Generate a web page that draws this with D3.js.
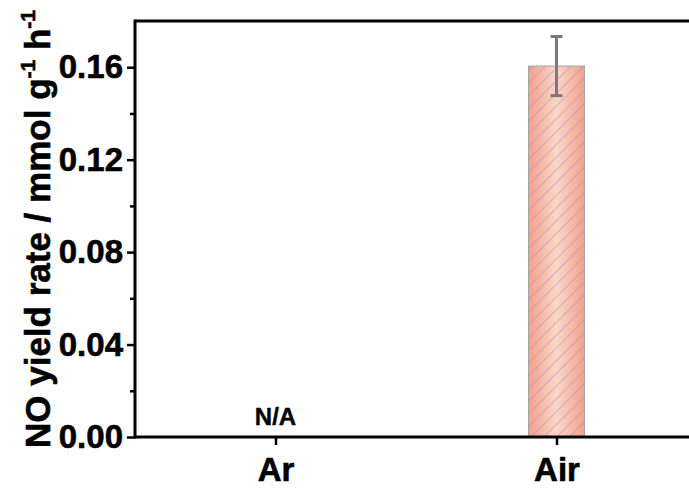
<!DOCTYPE html>
<html><head><meta charset="utf-8">
<script src="https://cdn.jsdelivr.net/npm/d3@7"></script>
<style>body{margin:0;background:#fff}svg{display:block}text{font-family:"Liberation Sans",Arial,sans-serif;font-weight:bold}</style>
</head><body>
<svg id="c" width="689" height="491"></svg>
<script>
const categories = ["Ar", "Air"];
const values = [null, 0.1605];
const errors = [null, 0.0128];
const naLabels = ["N/A", null];
const yTicks = [0.00, 0.04, 0.08, 0.12, 0.16];
const yMinorTicks = [0.02, 0.06, 0.10, 0.14];

(function () {
const svg = d3.select("#c");
const mLeft = 135, mRight = 697, mTop = 21, mBottom = 437;
const x = d3.scalePoint().domain(categories).range([mLeft, mRight]).padding(0.5);
const y = d3.scaleLinear().domain([0, 0.18]).range([mBottom, mTop]);
const barW = 56;

const defs = svg.append("defs");
const grad = defs.append("linearGradient").attr("id", "g").attr("x1", "0").attr("x2", "1").attr("y1", "0").attr("y2", "0");
grad.append("stop").attr("offset", "0").attr("stop-color", "#f2a08b");
grad.append("stop").attr("offset", "0.5").attr("stop-color", "#fcd6c6");
grad.append("stop").attr("offset", "1").attr("stop-color", "#f2a18c");
const pat = defs.append("pattern").attr("id", "h").attr("patternUnits", "userSpaceOnUse")
  .attr("width", 9).attr("height", 9).attr("patternTransform", "rotate(45)");
pat.append("line").attr("x1", 0).attr("y1", 0).attr("x2", 0).attr("y2", 9)
  .attr("stroke", "#9a8ed4").attr("stroke-width", 1);

const data = categories.map((c, i) => ({c, v: values[i], e: errors[i], na: naLabels[i]}));

const bars = data.filter(d => d.v != null);
svg.selectAll("rect.bar").data(bars).enter().append("rect")
  .attr("x", d => x(d.c) - barW / 2).attr("width", barW)
  .attr("y", d => y(d.v)).attr("height", d => y(0) - y(d.v))
  .attr("fill", "url(#g)");
svg.selectAll("rect.hatch").data(bars).enter().append("rect")
  .attr("x", d => x(d.c) - barW / 2).attr("width", barW)
  .attr("y", d => y(d.v)).attr("height", d => y(0) - y(d.v))
  .attr("fill", "url(#h)").attr("stroke", "#a3a3a3").attr("stroke-width", 1);

const eg = svg.selectAll("g.err").data(bars).enter().append("g")
  .attr("stroke", "#7b7b7b").attr("stroke-width", 3);
eg.append("line").attr("x1", d => x(d.c)).attr("x2", d => x(d.c))
  .attr("y1", d => y(d.v + d.e)).attr("y2", d => y(d.v - d.e));
eg.append("line").attr("x1", d => x(d.c) - 6).attr("x2", d => x(d.c) + 6)
  .attr("y1", d => y(d.v + d.e)).attr("y2", d => y(d.v + d.e));
eg.append("line").attr("x1", d => x(d.c) - 6).attr("x2", d => x(d.c) + 6)
  .attr("y1", d => y(d.v - d.e)).attr("y2", d => y(d.v - d.e));

svg.selectAll("text.na").data(data.filter(d => d.na)).enter().append("text")
  .attr("x", d => x(d.c)).attr("y", y(0) - 12).attr("text-anchor", "middle")
  .attr("font-size", 24).attr("stroke", "#000").attr("stroke-width", 0.4).text(d => d.na);

const yAxis = svg.append("g").attr("transform", `translate(${mLeft},0)`)
  .call(d3.axisLeft(y).tickValues(yTicks).tickFormat(d3.format(".2f")).tickSize(8).tickPadding(4));
yAxis.select(".domain").remove();
yAxis.selectAll(".tick line").attr("stroke", "#000").attr("stroke-width", 2.5);
yAxis.selectAll(".tick text").attr("font-size", 33).attr("fill", "#000")
  .attr("stroke", "#000").attr("stroke-width", 0.6)
  .attr("font-family", '"Liberation Sans",Arial,sans-serif').attr("font-weight", "bold");
svg.append("g").attr("transform", `translate(${mLeft},0)`)
  .call(d3.axisLeft(y).tickValues(yMinorTicks).tickFormat("").tickSize(5))
  .call(g => g.select(".domain").remove())
  .selectAll(".tick line").attr("stroke", "#000").attr("stroke-width", 2.5);

const xAxis = svg.append("g").attr("transform", `translate(0,${mBottom})`)
  .call(d3.axisBottom(x).tickSize(8).tickPadding(13));
xAxis.select(".domain").remove();
xAxis.selectAll(".tick line").attr("stroke", "#000").attr("stroke-width", 2.5);
xAxis.selectAll(".tick text").attr("font-size", 33).attr("fill", "#000")
  .attr("stroke", "#000").attr("stroke-width", 0.6)
  .attr("font-family", '"Liberation Sans",Arial,sans-serif').attr("font-weight", "bold");

svg.append("line").attr("x1", mLeft).attr("x2", mRight).attr("y1", mBottom).attr("y2", mBottom).attr("stroke", "#000").attr("stroke-width", 3);
svg.append("line").attr("x1", mLeft).attr("x2", mRight).attr("y1", mTop).attr("y2", mTop).attr("stroke", "#000").attr("stroke-width", 3);
svg.append("line").attr("x1", mLeft).attr("x2", mLeft).attr("y1", mTop - 1.5).attr("y2", mBottom + 1.5).attr("stroke", "#000").attr("stroke-width", 3);

const t = svg.append("text").attr("transform", `translate(50,229) rotate(-90)`)
  .attr("text-anchor", "middle").attr("font-size", 35)
  .attr("stroke", "#000").attr("stroke-width", 0.6);
t.append("tspan").text("NO yield rate / mmol g");
t.append("tspan").attr("font-size", 21).attr("dy", -15).text("-1");
t.append("tspan").attr("dy", 15).text(" h");
t.append("tspan").attr("font-size", 21).attr("dy", -15).text("-1");
})();
</script>
</body></html>
